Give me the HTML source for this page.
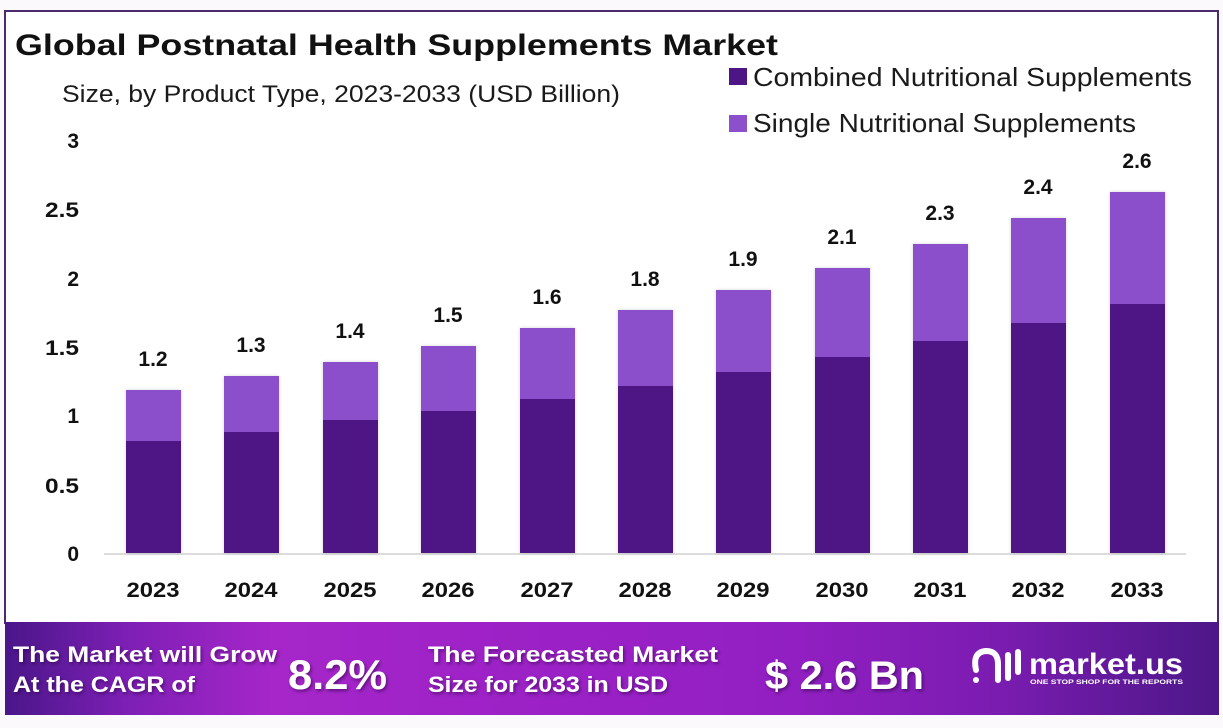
<!DOCTYPE html>
<html>
<head>
<meta charset="utf-8">
<style>
  html,body{margin:0;padding:0;background:#fbf9fb;}
  svg{display:block;}
  text{font-family:"Liberation Sans",sans-serif;}
</style>
</head>
<body>
<svg width="1223" height="728" viewBox="0 0 1223 728" xmlns="http://www.w3.org/2000/svg">
  <defs>
    <linearGradient id="ban" x1="0" y1="0" x2="1" y2="0">
      <stop offset="0" stop-color="#4a1689"/>
      <stop offset="0.10" stop-color="#7d1fb5"/>
      <stop offset="0.22" stop-color="#a626c9"/>
      <stop offset="0.45" stop-color="#9b21c6"/>
      <stop offset="0.65" stop-color="#921fc2"/>
      <stop offset="0.82" stop-color="#7a1cb0"/>
      <stop offset="1" stop-color="#4c1788"/>
    </linearGradient>
    <filter id="ts" x="-10%" y="-20%" width="120%" height="150%">
      <feDropShadow dx="1.5" dy="2" stdDeviation="1.5" flood-color="#2a0640" flood-opacity="0.55"/>
    </filter>
    <filter id="bs" x="-20%" y="-5%" width="140%" height="110%">
      <feDropShadow dx="0" dy="0" stdDeviation="1.5" flood-color="#000" flood-opacity="0.18"/>
    </filter>
  </defs>

  <rect x="0" y="0" width="1223" height="728" fill="#fbf9fb"/>
  <rect x="5" y="11" width="1213" height="612" fill="#ffffff" stroke="#4b2a70" stroke-width="2"/>

  <text x="15" y="55" font-size="30" font-weight="bold" fill="#111" textLength="763" lengthAdjust="spacingAndGlyphs">Global Postnatal Health Supplements Market</text>
  <text x="62" y="102" font-size="24" fill="#1a1a1a" textLength="558" lengthAdjust="spacingAndGlyphs">Size, by Product Type, 2023-2033 (USD Billion)</text>

  <rect x="729" y="68" width="18" height="17" fill="#4e1684"/>
  <text x="753" y="86" font-size="26" fill="#1a1a1a" textLength="439" lengthAdjust="spacingAndGlyphs">Combined Nutritional Supplements</text>
  <rect x="729" y="115" width="18" height="17" fill="#8c50cc"/>
  <text x="753" y="132" font-size="26" fill="#1a1a1a" textLength="383" lengthAdjust="spacingAndGlyphs">Single Nutritional Supplements</text>

  <g font-size="21" font-weight="bold" fill="#111" text-anchor="end">
    <text x="79" y="148">3</text>
    <text x="79" y="217" textLength="34" lengthAdjust="spacingAndGlyphs">2.5</text>
    <text x="79" y="286">2</text>
    <text x="79" y="355" textLength="34" lengthAdjust="spacingAndGlyphs">1.5</text>
    <text x="79" y="423">1</text>
    <text x="79" y="493" textLength="34" lengthAdjust="spacingAndGlyphs">0.5</text>
    <text x="79" y="561">0</text>
  </g>

  <line x1="104" y1="554" x2="1186" y2="554" stroke="#dcdcdc" stroke-width="2"/>

  <g filter="url(#bs)">
    <rect x="126" y="390" width="55" height="51" fill="#8c50cc"/><rect x="126" y="441" width="55" height="112" fill="#4e1684"/>
    <rect x="224" y="376" width="55" height="56" fill="#8c50cc"/><rect x="224" y="432" width="55" height="121" fill="#4e1684"/>
    <rect x="323" y="362" width="55" height="58" fill="#8c50cc"/><rect x="323" y="420" width="55" height="133" fill="#4e1684"/>
    <rect x="421" y="346" width="55" height="65" fill="#8c50cc"/><rect x="421" y="411" width="55" height="142" fill="#4e1684"/>
    <rect x="520" y="328" width="55" height="71" fill="#8c50cc"/><rect x="520" y="399" width="55" height="154" fill="#4e1684"/>
    <rect x="618" y="310" width="55" height="76" fill="#8c50cc"/><rect x="618" y="386" width="55" height="167" fill="#4e1684"/>
    <rect x="716" y="290" width="55" height="82" fill="#8c50cc"/><rect x="716" y="372" width="55" height="181" fill="#4e1684"/>
    <rect x="815" y="268" width="55" height="89" fill="#8c50cc"/><rect x="815" y="357" width="55" height="196" fill="#4e1684"/>
    <rect x="913" y="244" width="55" height="97" fill="#8c50cc"/><rect x="913" y="341" width="55" height="212" fill="#4e1684"/>
    <rect x="1011" y="218" width="55" height="105" fill="#8c50cc"/><rect x="1011" y="323" width="55" height="230" fill="#4e1684"/>
    <rect x="1110" y="192" width="55" height="112" fill="#8c50cc"/><rect x="1110" y="304" width="55" height="249" fill="#4e1684"/>
  </g>

  <g font-size="21" font-weight="bold" fill="#111" text-anchor="middle">
    <text x="153" y="366">1.2</text>
    <text x="251" y="352">1.3</text>
    <text x="350" y="338">1.4</text>
    <text x="448" y="322">1.5</text>
    <text x="547" y="304">1.6</text>
    <text x="645" y="286">1.8</text>
    <text x="743" y="266">1.9</text>
    <text x="842" y="244">2.1</text>
    <text x="940" y="220">2.3</text>
    <text x="1038" y="194">2.4</text>
    <text x="1137" y="168">2.6</text>
  </g>

  <g font-size="21" font-weight="bold" fill="#111" text-anchor="middle">
    <text x="153" y="597" textLength="53" lengthAdjust="spacingAndGlyphs">2023</text>
    <text x="251" y="597" textLength="53" lengthAdjust="spacingAndGlyphs">2024</text>
    <text x="350" y="597" textLength="53" lengthAdjust="spacingAndGlyphs">2025</text>
    <text x="448" y="597" textLength="53" lengthAdjust="spacingAndGlyphs">2026</text>
    <text x="547" y="597" textLength="53" lengthAdjust="spacingAndGlyphs">2027</text>
    <text x="645" y="597" textLength="53" lengthAdjust="spacingAndGlyphs">2028</text>
    <text x="743" y="597" textLength="53" lengthAdjust="spacingAndGlyphs">2029</text>
    <text x="842" y="597" textLength="53" lengthAdjust="spacingAndGlyphs">2030</text>
    <text x="940" y="597" textLength="53" lengthAdjust="spacingAndGlyphs">2031</text>
    <text x="1038" y="597" textLength="53" lengthAdjust="spacingAndGlyphs">2032</text>
    <text x="1137" y="597" textLength="53" lengthAdjust="spacingAndGlyphs">2033</text>
  </g>

  <rect x="5" y="622" width="1214" height="93" fill="url(#ban)"/>
  <g fill="#ffffff" font-weight="bold" filter="url(#ts)">
    <text x="13" y="662" font-size="22" textLength="264" lengthAdjust="spacingAndGlyphs">The Market will Grow</text>
    <text x="13" y="692" font-size="22" textLength="182" lengthAdjust="spacingAndGlyphs">At the CAGR of</text>
    <text x="288" y="689" font-size="42" textLength="99" lengthAdjust="spacingAndGlyphs">8.2%</text>
    <text x="428" y="662" font-size="22" textLength="290" lengthAdjust="spacingAndGlyphs">The Forecasted Market</text>
    <text x="428" y="692" font-size="22" textLength="240" lengthAdjust="spacingAndGlyphs">Size for 2033 in USD</text>
    <text x="765" y="689" font-size="40" textLength="159" lengthAdjust="spacingAndGlyphs">$ 2.6 Bn</text>
  </g>
  <g fill="none" stroke="#ffffff" stroke-width="6" stroke-linecap="round">
    <path d="M976 670 Q972 652 986 651 Q998 651 998 664 L998 680"/>
    <line x1="1008" y1="655" x2="1008" y2="678"/>
    <line x1="1018" y1="652" x2="1018" y2="672"/>
  </g>
  <circle cx="976" cy="680" r="3" fill="#fff"/>
  <text x="1029" y="674" font-size="30" font-weight="bold" fill="#fff" textLength="154" lengthAdjust="spacingAndGlyphs">market.us</text>
  <text x="1030" y="684" font-size="6.5" font-weight="bold" fill="#fff" textLength="153" lengthAdjust="spacingAndGlyphs">ONE STOP SHOP FOR THE REPORTS</text>
</svg>
</body>
</html>
